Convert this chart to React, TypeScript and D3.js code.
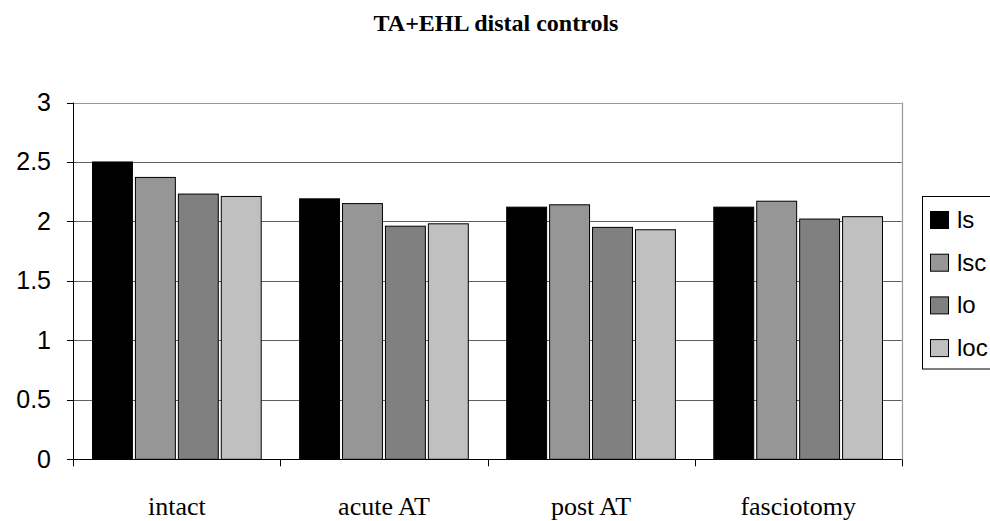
import React from "react";
import * as d3 from "d3";

const categories = ["intact", "acute AT", "post AT", "fasciotomy"];
const seriesNames = ["ls", "lsc", "lo", "loc"];
const lsValues = [2.5, 2.19, 2.12, 2.12];
const lscValues = [2.37, 2.15, 2.14, 2.17];
const loValues = [2.23, 1.96, 1.95, 2.02];
const locValues = [2.21, 1.98, 1.93, 2.04];
const yTicks = [0, 0.5, 1, 1.5, 2, 2.5, 3];
const seriesColors = ["#000000", "#969696", "#808080", "#c0c0c0"];

const seriesValues = [lsValues, lscValues, loValues, locValues];

export default function App() {
  const W = 990, H = 521;
  const left = 73.3, right = 901.7, top = 102.5, bottom = 459.3;
  const x0 = d3.scaleBand<string>().domain(categories).range([left, right]).padding(0);
  const bw = x0.bandwidth();
  const side = 17.7;
  const x1 = d3.scaleBand<string>().domain(seriesNames).range([side, bw - side]).padding(0);
  const barW = x1.bandwidth() - 3;
  const y = d3.scaleLinear().domain([0, 3]).range([bottom, top]);

  const catEdges = [...categories.map((c) => x0(c)!), right];

  return (
    <svg width={W} height={H} style={{ position: "absolute", left: 0, top: 0, background: "#fff" }}>
      <rect x={0} y={0} width={W} height={H} fill="#fff" />
      <text x={496} y={31} textAnchor="middle" fontFamily="Liberation Serif, Times New Roman, serif" fontWeight="bold" fontSize={24}>
        TA+EHL distal controls
      </text>
      {/* gridlines */}
      {yTicks.filter((t) => t > 0 && t < 3).map((t) => (
        <line key={t} x1={left} x2={right} y1={Math.round(y(t)) + 0.5} y2={Math.round(y(t)) + 0.5} stroke="#606060" strokeWidth={1} />
      ))}
      {/* plot border top/right */}
      <line x1={left} x2={right} y1={Math.round(y(3)) + 0.5} y2={Math.round(y(3)) + 0.5} stroke="#999" strokeWidth={1.2} />
      <line x1={Math.round(right) + 0.5} x2={Math.round(right) + 0.5} y1={y(3)} y2={bottom} stroke="#999" strokeWidth={1.2} />
      {/* bars */}
      {categories.map((c, ci) =>
        seriesNames.map((s, si) => {
          const v = seriesValues[si][ci];
          const bx = x0(c)! + x1(s)! + 1.5;
          return (
            <rect key={c + s} x={bx} y={y(v)} width={barW} height={bottom - y(v)} fill={seriesColors[si]} stroke="#000" strokeWidth={1} />
          );
        })
      )}
      {/* y axis */}
      <line x1={Math.round(left) + 0.5} x2={Math.round(left) + 0.5} y1={y(3)} y2={bottom} stroke="#000" strokeWidth={1} />
      {yTicks.map((t) => (
        <g key={t}>
          <line x1={67} x2={left} y1={Math.round(y(t)) + 0.5} y2={Math.round(y(t)) + 0.5} stroke="#000" strokeWidth={1} />
          <text x={51} y={y(t) + 8.5} textAnchor="end" fontFamily="Liberation Sans, Arial, sans-serif" fontSize={25}>
            {t}
          </text>
        </g>
      ))}
      {/* x axis */}
      <line x1={left} x2={right} y1={Math.round(bottom) + 0.5} y2={Math.round(bottom) + 0.5} stroke="#000" strokeWidth={1} />
      {catEdges.map((e, i) => (
        <line key={i} x1={Math.round(e) + 0.5} x2={Math.round(e) + 0.5} y1={bottom} y2={bottom + 7} stroke="#000" strokeWidth={1} />
      ))}
      {categories.map((c) => (
        <text key={c} x={x0(c)! + bw / 2} y={515} textAnchor="middle" fontFamily="Liberation Serif, Times New Roman, serif" fontSize={26}>
          {c}
        </text>
      ))}
      {/* legend */}
      <rect x={922.5} y={196.5} width={80} height={172.5} fill="#fff" stroke="#000" strokeWidth={1} />
      {seriesNames.map((s, i) => (
        <g key={s}>
          <rect x={930.5} y={211.5 + i * 42.7} width={18} height={17} fill={seriesColors[i]} stroke="#000" strokeWidth={1} />
          <text x={957} y={228 + i * 42.7} fontFamily="Liberation Sans, Arial, sans-serif" fontSize={24}>
            {s}
          </text>
        </g>
      ))}
    </svg>
  );
}
